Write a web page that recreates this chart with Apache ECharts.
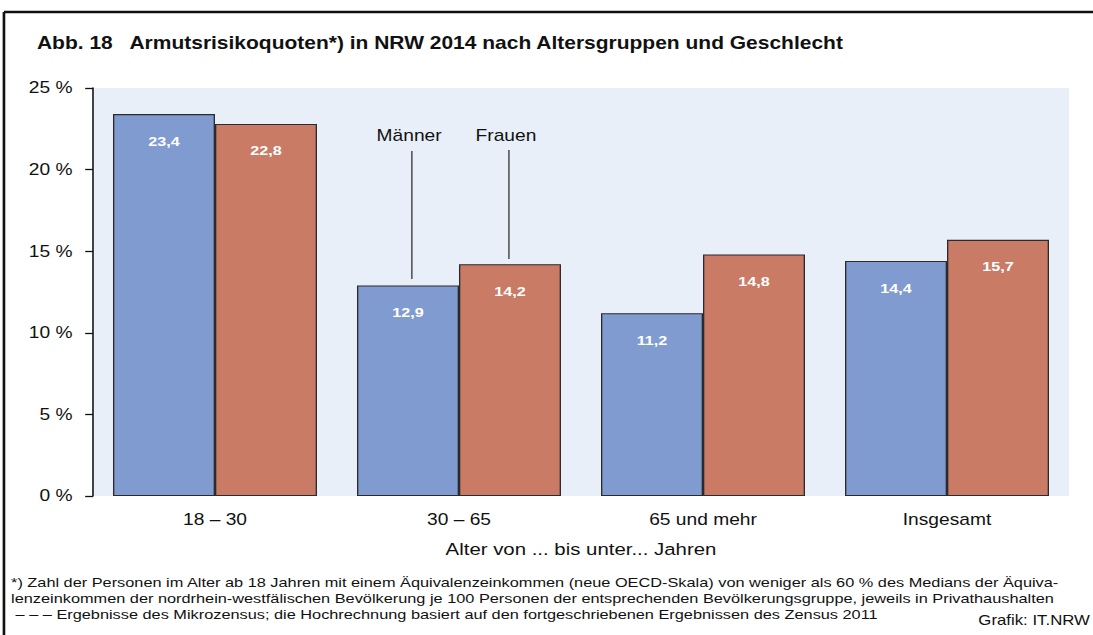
<!DOCTYPE html>
<html lang="de">
  <head>
    <meta charset="utf-8">
    <title>Armutsrisikoquoten NRW 2014</title>
    <script src="https://cdn.jsdelivr.net/npm/echarts@6/dist/echarts.min.js"></script>
    <style>
      html, body { margin: 0; padding: 0; background: #fff; overflow: hidden; }
      /* the original graphic is stretched sideways by about 1.2, so the chart is drawn
         911px wide and widened to the 1093px window */
      #chart { width: 911px; height: 635px; transform: scaleX(1.19978); transform-origin: 0 0; }
    </style>
  </head>
  <body>
    <div id="chart"></div>
    <script>
      // data
      var categories = ['18 – 30', '30 – 65', '65 und mehr', 'Insgesamt'];
      var maenner = [23.4, 12.9, 11.2, 14.4];
      var frauen = [22.8, 14.2, 14.8, 15.7];
      var yTicks = [0, 5, 10, 15, 20, 25];

      var font = 'Liberation Sans, Arial, sans-serif';

      function fmt(p){
        return String(p.value).replace('.', ',');
      }

      var chart = echarts.init(document.getElementById('chart'), null, { renderer: 'svg' });
      chart.setOption({
        animation: false,
        textStyle: { fontFamily: font },
        grid: { left: 77.5, right: 20, top: 88, bottom: 139, containLabel: false,
                show: true, backgroundColor: '#E8EFF8', borderWidth: 0 },
        xAxis: {
          type: 'category',
          data: categories,
          axisLine: { show: false },
          axisTick: { show: false },
          axisLabel: { color: '#111', fontSize: 16, margin: 16, fontFamily: font },
          name: 'Alter von ... bis unter... Jahren',
          nameLocation: 'middle',
          nameGap: 45,
          nameTextStyle: { color: '#111', fontSize: 17, fontFamily: font }
        },
        yAxis: {
          type: 'value',
          min: yTicks[0],
          max: yTicks[yTicks.length - 1],
          interval: 5,
          splitLine: { show: false },
          axisLine: { show: true, lineStyle: { color: '#111', width: 1.3 } },
          axisTick: { show: true, length: 6.5, lineStyle: { color: '#111', width: 1.3 } },
          axisLabel: { color: '#111', fontSize: 16, margin: 17, fontFamily: font,
                       formatter: function(v){ return v + ' %'; } }
        },
        series: [
          {
            name: 'Männer', type: 'bar', data: maenner,
            barGap: '0%', barCategoryGap: '16.4%',
            itemStyle: { color: '#809BD0', borderColor: '#2b2b2b', borderWidth: 1.1 },
            label: { show: true, position: 'insideTop', distance: 20, color: '#fff',
                     fontWeight: 'bold', fontSize: 13.5, fontFamily: font, formatter: fmt }
          },
          {
            name: 'Frauen', type: 'bar', data: frauen,
            itemStyle: { color: '#C97B65', borderColor: '#2b2b2b', borderWidth: 1.1 },
            label: { show: true, position: 'insideTop', distance: 20, color: '#fff',
                     fontWeight: 'bold', fontSize: 13.5, fontFamily: font, formatter: fmt }
          }
        ],
        graphic: [
          // frame
          { type: 'line', shape: { x1: 3.3, y1: 12, x2: 911, y2: 12 }, style: { stroke: '#111', lineWidth: 2.5 } },
          { type: 'line', shape: { x1: 3.3, y1: 12, x2: 3.3, y2: 635 }, style: { stroke: '#111', lineWidth: 2.2 } },
          { type: 'text', left: 30.8, top: 34,
            style: { text: 'Abb. 18   Armutsrisikoquoten*) in NRW 2014 nach Altersgruppen und Geschlecht',
                     font: 'bold 17.5px ' + font, fill: '#111' } },
          // legend annotations
          { type: 'text', x: 341, y: 136, style: { text: 'Männer', font: '16px ' + font, fill: '#111',
            align: 'center', verticalAlign: 'middle' } },
          { type: 'line', shape: { x1: 343.3, y1: 151, x2: 343.3, y2: 279 }, style: { stroke: '#222', lineWidth: 1 } },
          { type: 'text', x: 421.7, y: 136, style: { text: 'Frauen', font: '16px ' + font, fill: '#111',
            align: 'center', verticalAlign: 'middle' } },
          { type: 'line', shape: { x1: 424.2, y1: 150, x2: 424.2, y2: 259 }, style: { stroke: '#222', lineWidth: 1 } },
          // footnotes
          { type: 'text', left: 9.2, top: 574,
            style: { text: '*) Zahl der Personen im Alter ab 18 Jahren mit einem Äquivalenzeinkommen (neue OECD-Skala) von weniger als 60 % des Medians der Äquiva-\nlenzeinkommen der nordrhein-westfälischen Bevölkerung je 100 Personen der entsprechenden Bevölkerungsgruppe, jeweils in Privathaushalten\n – – – Ergebnisse des Mikrozensus; die Hochrechnung basiert auf den fortgeschriebenen Ergebnissen des Zensus 2011',
                     font: '13.6px ' + font, fill: '#111', lineHeight: 16 } },
          { type: 'text', right: 2.5, top: 613, style: { text: 'Grafik: IT.NRW', font: '14px ' + font, fill: '#111' } }
        ]
      });
    </script>
  </body>
</html>
